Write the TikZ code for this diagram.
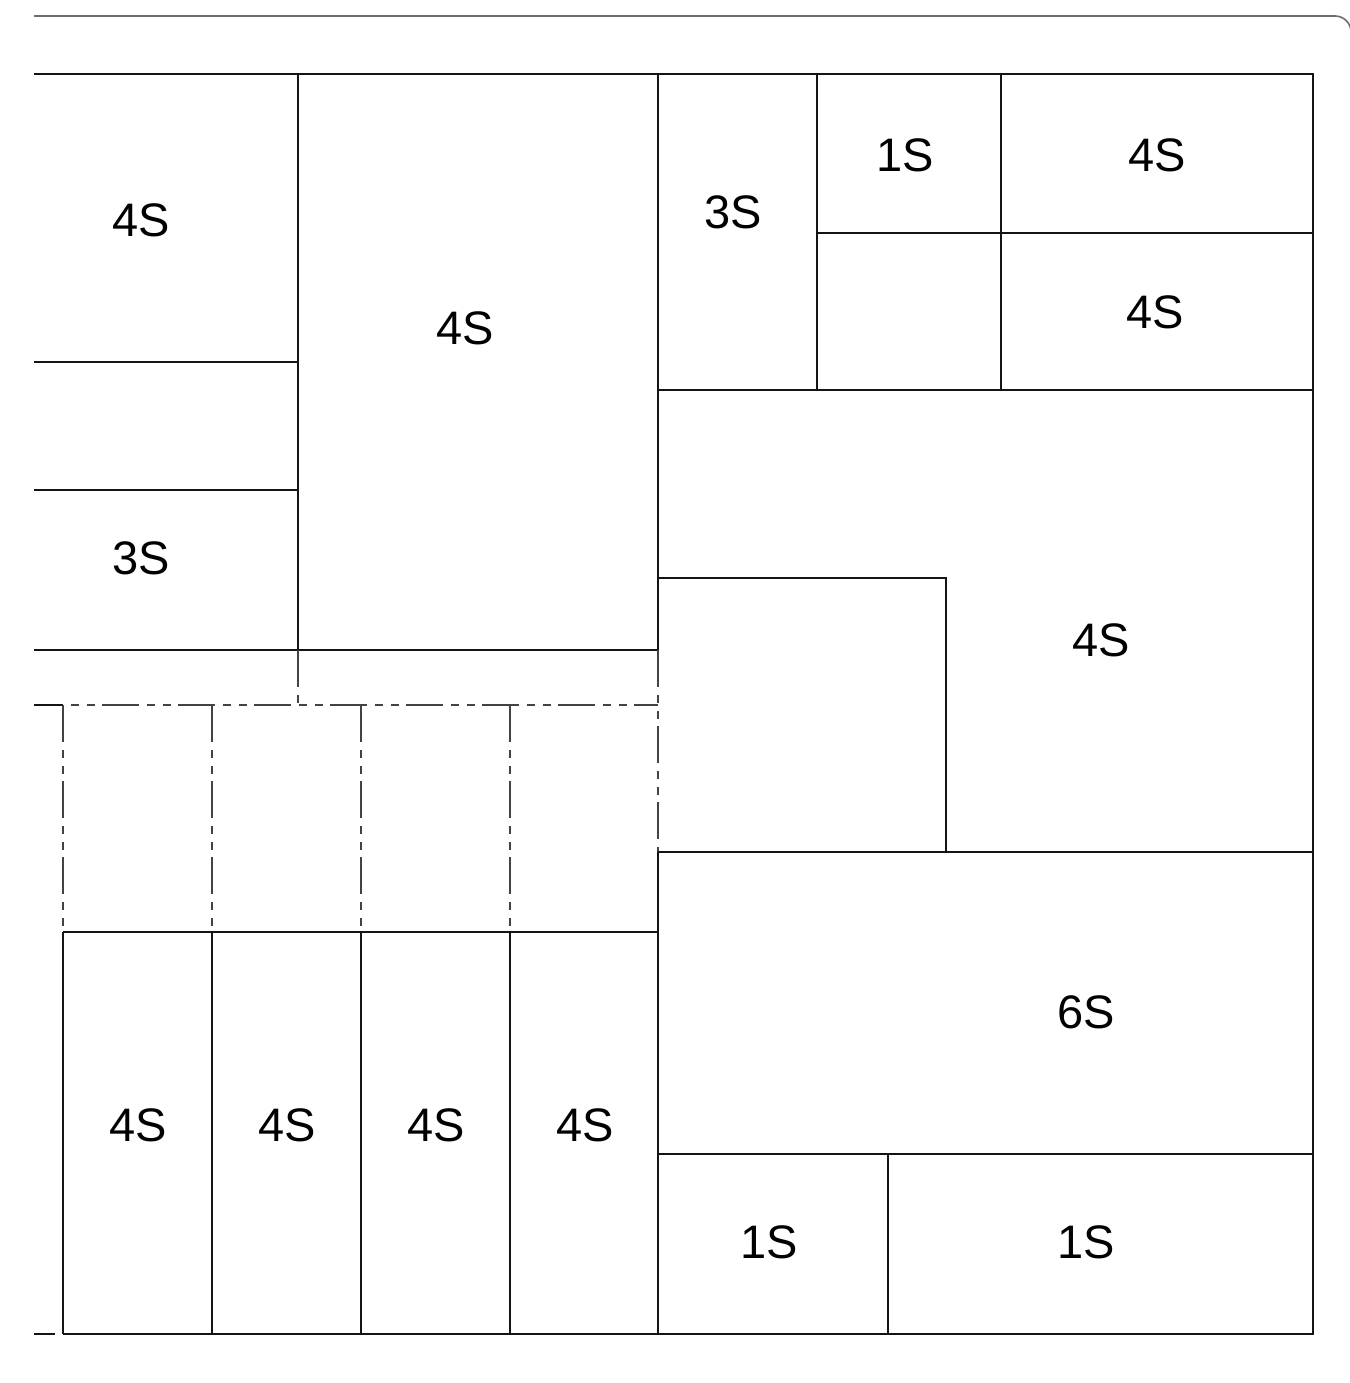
\documentclass[tikz,border=0pt]{standalone}
\usepackage{fontspec}
\setmainfont{Liberation Sans}
\definecolor{wallc}{RGB}{20,20,20}
\definecolor{rimc}{RGB}{110,110,110}
\usetikzlibrary{calc}
\tikzset{
  wall/.style={draw=wallc, line width=1.4pt},
  hidden/.style={draw=wallc!80, line width=1.4pt,
                 dash pattern=on 37pt off 8pt on 8pt off 8pt on 8pt off 7pt},
  rim/.style={draw=rimc, line width=1.6pt, rounded corners=16pt},
  lbl/.style={font=\fontsize{47}{50}\selectfont, text=black, inner sep=0pt},
}

\begin{document}
\begin{tikzpicture}[x=1pt,y=-1pt]
    \useasboundingbox (0,0) rectangle (1349,1383);
    % sheet edge
    \draw[rim] (34,16) -- (1351,16) -- (1351,60);
    % outline
    \draw[wall] (34,74) -- (1313,74) -- (1313,1334) -- (63,1334);
    \draw[wall] (34,1334) -- (55,1334);
    % left column
    \draw[wall] (34,362) -- (298,362);
    \draw[wall] (34,490) -- (298,490);
    \draw[wall] (34,650) -- (658,650);
    \draw[wall] (298,74) -- (298,650);
    \draw[wall] (658,74) -- (658,650);
    \draw[hidden] (298,650) -- (298,705);
    \draw[hidden] (658,650) -- (658,852);
    % strip of four
    \draw[wall] (34,705) -- (63,705);
    \draw[hidden, dash phase=37pt] (63,705) -- (658,705);
    \foreach \cx in {63,212,361,510} {
      \draw[hidden] (\cx,705) -- (\cx,932);
      \draw[wall] (\cx,932) -- (\cx,1334);
    }
    \draw[wall] (63,932) -- (658,932);
    % right block, top
    \draw[wall] (817,74) -- (817,390);
    \draw[wall] (1001,74) -- (1001,390);
    \draw[wall] (817,233) -- (1313,233);
    \draw[wall] (658,390) -- (1313,390);
    % right block, middle
    \draw[wall] (658,578) -- (946,578) -- (946,852);
    \draw[wall] (658,852) -- (1313,852);
    % right block, bottom
    \draw[wall] (658,852) -- (658,1334);
    \draw[wall] (658,1154) -- (1313,1154);
    \draw[wall] (888,1154) -- (888,1334);
    % labels
    \node[lbl] (a1) at (141,220)  {4S};
    \node[lbl] (a2) at (141,558)  {3S};
    \node[lbl] (b1) at (465,328)  {4S};
    \node[lbl] (c1) at (733,212)  {3S};
    \node[lbl] (c2) at (905,155)  {1S};
    \node[lbl] (c3) at (1157,155) {4S};
    \node[lbl] (c4) at (1155,312) {4S};
    \node[lbl] (d1) at (1101,640) {4S};
    \node[lbl] (e1) at (1086,1012) {6S};
    \node[lbl] (f1) at (769,1242) {1S};
    \node[lbl] (f2) at (1086,1242) {1S};
    \foreach \cx/\nm in {138/g1,287/g2,436/g3,585/g4}
      \node[lbl] (\nm) at (\cx,1125) {4S};
\end{tikzpicture}
\end{document}
